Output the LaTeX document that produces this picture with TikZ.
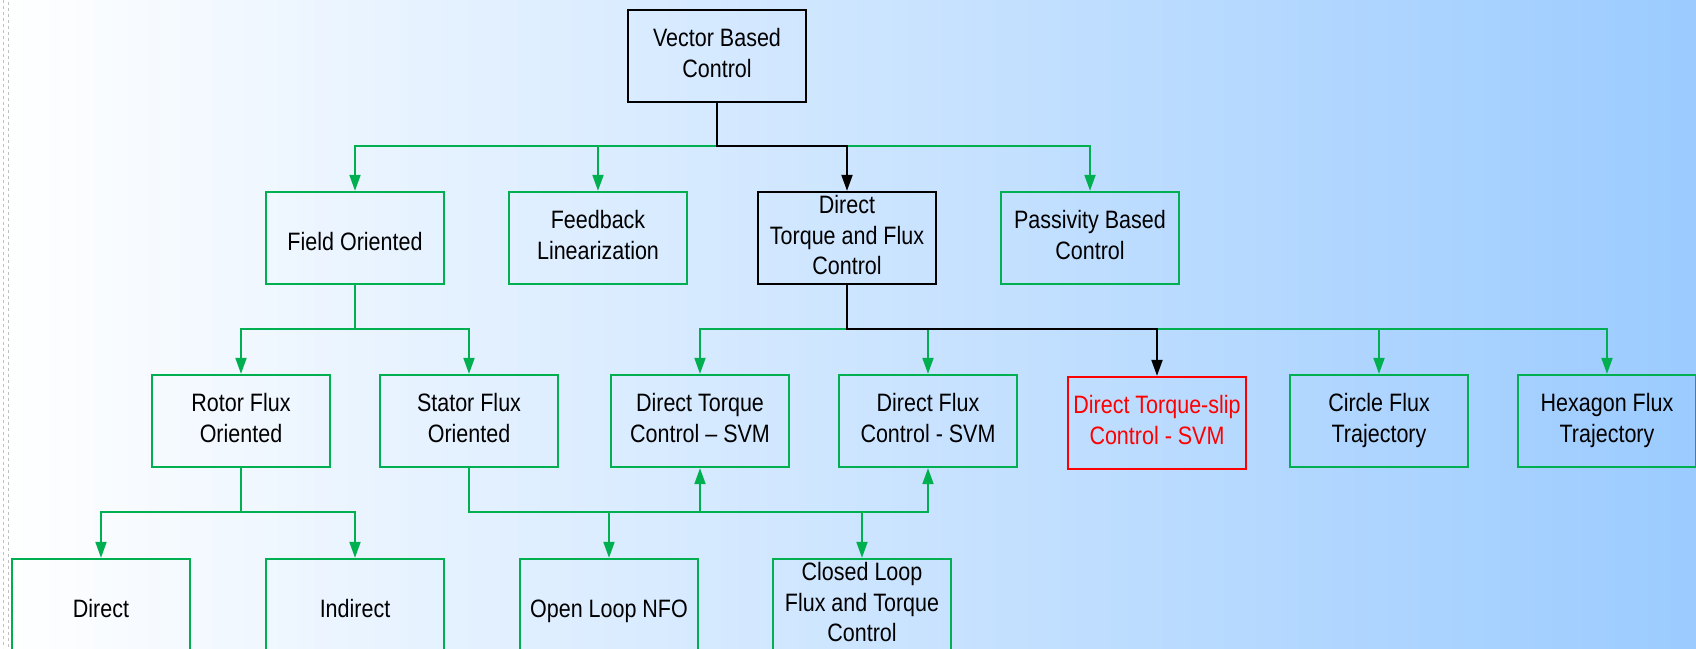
\documentclass[tikz,border=0pt]{standalone}
\usepackage{fontspec}
\setmainfont{Liberation Sans}
\usetikzlibrary{arrows.meta}
\definecolor{boxgreen}{RGB}{0,176,80}
\definecolor{bgblue}{RGB}{155,203,255}

\begin{document}
\begin{tikzpicture}[x=1pt, y=-1pt,
    every node/.style={font=\fontsize{21.5}{26.3}\selectfont, align=center,
        execute at begin node={\rule{0pt}{26pt}}, execute at end node={\rule[-5pt]{0pt}{5pt}}},
    box/.style={draw=boxgreen, line width=2pt, minimum width=178pt, minimum height=78.6pt,
        inner sep=0pt, yscale=1.17, transform shape},
    keybox/.style={box, draw=black},
    link/.style={color=boxgreen, line width=2pt, -{Triangle[length=16pt,width=11pt]}},
    keylink/.style={link, color=black}]
    \useasboundingbox (0,0) rectangle (1696,648);
    \shade[left color=white, right color=bgblue] (0,0) rectangle (1696,648);
    \draw[gray!50, line width=1pt, dash pattern=on 3pt off 3pt] (3,0) -- (3,648);
    \draw[gray!50, line width=1pt, dash pattern=on 3pt off 3pt] (8,2) -- (8,648);

    % rows of boxes
    \node[keybox, line width=2.5pt] (vbc) at (717,56) {Vector Based\\Control};

    \node[box] (fo) at (355,238) {Field Oriented};
    \node[box] (fl) at (598,238) {Feedback\\Linearization};
    \node[keybox] (dtfc) at (847,238) {Direct\\Torque and Flux\\Control};
    \node[box] (pbc) at (1090,238) {Passivity Based\\Control};

    \node[box] (rfo) at (241,421) {Rotor Flux\\Oriented};
    \node[box] (sfo) at (469,421) {Stator Flux\\Oriented};
    \node[box] (dtc) at (700,421) {Direct Torque\\Control – SVM};
    \node[box] (dfc) at (928,421) {Direct Flux\\Control - SVM};
    \node[box, draw=red, text=red] (dts) at (1157,423) {Direct Torque-slip\\Control - SVM};
    \node[box] (cft) at (1379,421) {Circle Flux\\Trajectory};
    \node[box] (hft) at (1607,421) {Hexagon Flux\\Trajectory};

    \node[box] (dir) at (101,605) {Direct};
    \node[box] (ind) at (355,605) {Indirect};
    \node[box] (olnfo) at (609,605) {Open Loop NFO};
    \node[box] (clftc) at (862,605) {Closed Loop\\Flux and Torque\\Control};

    % bus heights
    \coordinate (bus1) at (0,146);
    \coordinate (bus2) at (0,329);
    \coordinate (bus3) at (0,512);

    % connectors
    \foreach \n in {fo,fl,pbc}
        \draw[link] (vbc.south) |- (\n.north |- bus1) -- (\n.north);
    \draw[keylink] (vbc.south) |- (dtfc.north |- bus1) -- (dtfc.north);

    \foreach \n in {rfo,sfo}
        \draw[link] (fo.south) |- (\n.north |- bus2) -- (\n.north);
    \foreach \n in {dtc,dfc,cft,hft}
        \draw[link] (dtfc.south) |- (\n.north |- bus2) -- (\n.north);
    \draw[keylink] (dtfc.south) |- (dts.north |- bus2) -- (dts.north);

    \foreach \n in {dir,ind}
        \draw[link] (rfo.south) |- (\n.north |- bus3) -- (\n.north);
    \foreach \n in {olnfo,clftc}
        \draw[link] (sfo.south) |- (\n.north |- bus3) -- (\n.north);
    \foreach \n in {dtc,dfc}
        \draw[link] (sfo.south) |- (\n.south |- bus3) -- (\n.south);
\end{tikzpicture}
\end{document}
